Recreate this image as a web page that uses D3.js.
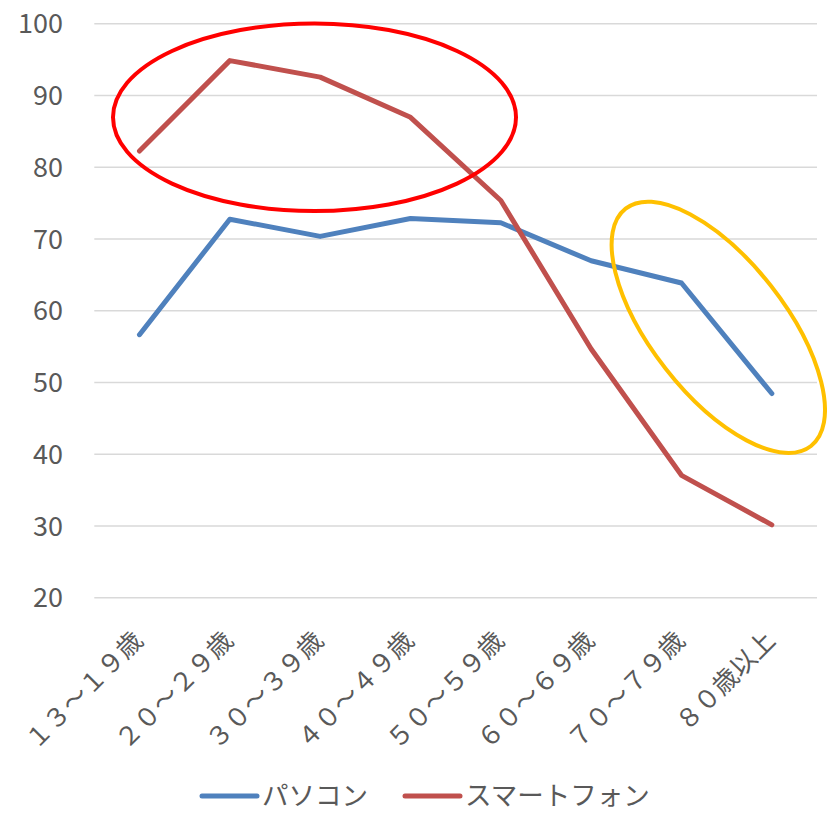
<!DOCTYPE html>
<html>
<head>
<meta charset="utf-8">
<script src="https://cdn.jsdelivr.net/npm/d3@7"></script>
<style>
  html, body { margin: 0; padding: 0; background: #fff; }
  svg { display: block; font-family: "Noto Sans CJK JP", "Noto Sans", sans-serif; }
</style>
</head>
<body>
<svg id="chart" width="827" height="815"></svg>
<script>
// Age groups on the x axis
const categories = ["１３～１９歳", "２０～２９歳", "３０～３９歳", "４０～４９歳", "５０～５９歳", "６０～６９歳", "７０～７９歳", "８０歳以上"];
// Usage rate (%) by device
const pcValues = [56.6, 72.7, 70.3, 72.8, 72.2, 66.9, 63.8, 48.4];
const smartphoneValues = [82.2, 94.8, 92.5, 86.9, 75.3, 54.6, 37.0, 30.1];
const seriesNames = ["パソコン", "スマートフォン"];
const seriesColors = ["#4F81BD", "#C0504D"];
const yTicks = [20, 30, 40, 50, 60, 70, 80, 90, 100];

const svg = d3.select("#chart");

const x = d3.scaleBand().domain(categories).range([94.3, 817]);
const y = d3.scaleLinear().domain([20, 100]).range([597.3, 23.3]);

// Horizontal gridlines
svg.append("g")
  .attr("transform", "translate(94.3,0)")
  .call(d3.axisLeft(y).tickValues(yTicks).tickSize(-(817 - 94.3)).tickFormat(""))
  .call(g => g.select(".domain").remove())
  .call(g => g.selectAll("line").attr("stroke", "#D9D9D9").attr("stroke-width", 1.5));

// Y tick labels
svg.append("g")
  .attr("transform", "translate(63,0)")
  .call(d3.axisLeft(y).tickValues(yTicks).tickSize(0).tickPadding(0))
  .call(g => g.select(".domain").remove())
  .call(g => g.selectAll("text")
    .attr("fill", "#595959")
    .attr("font-size", 27)
    .attr("font-family", "Noto Sans CJK JP")
    .attr("dy", "0.35em"));

// X tick labels, rotated
const xAxis = svg.append("g")
  .attr("transform", "translate(0,597.3)")
  .call(d3.axisBottom(x).tickSize(0))
  .call(g => g.select(".domain").remove());
xAxis.selectAll("text")
  .attr("fill", "#595959")
  .attr("font-size", 25.5)
  .attr("font-family", "Noto Sans CJK JP")
  .attr("text-anchor", "end")
  .attr("y", 0)
  .attr("dy", 0)
  .attr("transform", "translate(5,45) rotate(-45)");

// Series lines
const line = d3.line()
  .x((d, i) => x(categories[i]) + x.bandwidth() / 2)
  .y(d => y(d));

[pcValues, smartphoneValues].forEach((vals, k) => {
  svg.append("path")
    .datum(vals)
    .attr("d", line)
    .attr("fill", "none")
    .attr("stroke", seriesColors[k])
    .attr("stroke-width", 5)
    .attr("stroke-linejoin", "round")
    .attr("stroke-linecap", "round");
});

// Highlight ellipses
svg.append("ellipse")
  .attr("cx", 314.5).attr("cy", 117.3)
  .attr("rx", 201.5).attr("ry", 93.8)
  .attr("fill", "none")
  .attr("stroke", "#FF0000")
  .attr("stroke-width", 4);

svg.append("ellipse")
  .attr("cx", 0).attr("cy", 0)
  .attr("rx", 150.6).attr("ry", 67)
  .attr("transform", "translate(718.3,327.3) rotate(52)")
  .attr("fill", "none")
  .attr("stroke", "#FFC000")
  .attr("stroke-width", 4);

// Legend
const legendItems = [
  { name: seriesNames[0], color: seriesColors[0], x0: 202 },
  { name: seriesNames[1], color: seriesColors[1], x0: 405 }
];
const legend = svg.append("g");
legendItems.forEach(it => {
  legend.append("line")
    .attr("x1", it.x0).attr("x2", it.x0 + 55)
    .attr("y1", 796).attr("y2", 796)
    .attr("stroke", it.color)
    .attr("stroke-width", 5)
    .attr("stroke-linecap", "round");
  legend.append("text")
    .attr("x", it.x0 + 60)
    .attr("y", 796)
    .attr("dy", "0.35em")
    .attr("fill", "#595959")
    .attr("font-size", 26.5)
    .attr("font-family", "Noto Sans CJK JP")
    .text(it.name);
});
</script>
</body>
</html>
